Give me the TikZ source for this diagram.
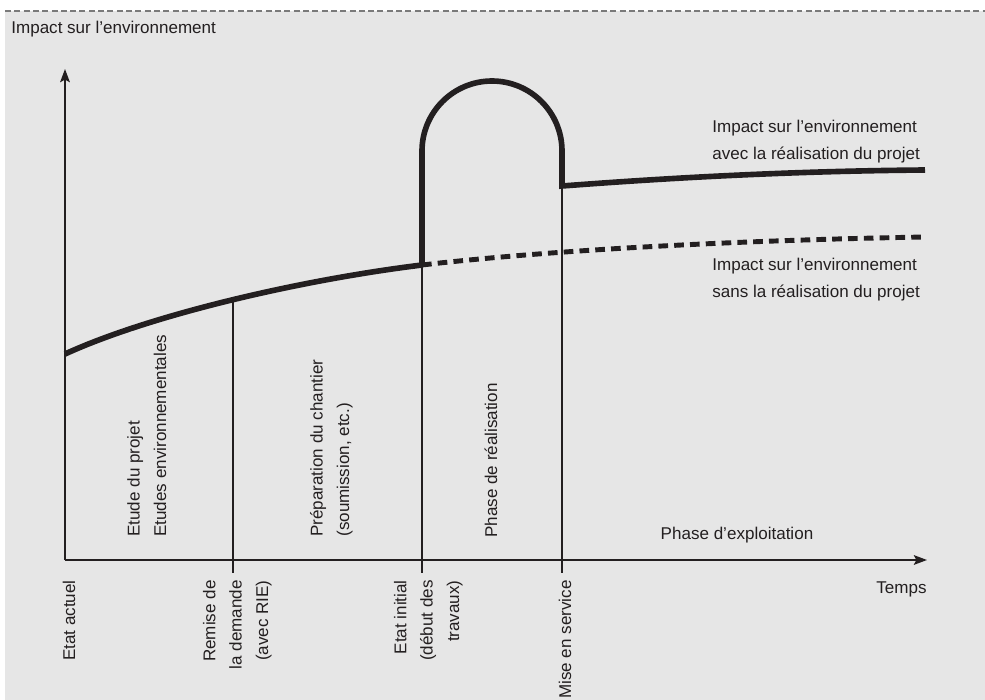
\documentclass[tikz,border=0pt]{standalone}
\usepackage{fontspec}
\setmainfont{Liberation Sans}
\usetikzlibrary{arrows.meta}
\definecolor{bggray}{HTML}{E6E6E6}
\definecolor{rulegray}{HTML}{7A7A7A}
\definecolor{ink}{HTML}{231F20}

\begin{document}
\begin{tikzpicture}[x=0.02cm,y=-0.02cm,
  every node/.style={font=\fontsize{9.7}{15}\selectfont,inner sep=0pt,text=ink},
  impact/.style={ink,line width=3.2pt},
  marker/.style={ink,line width=1.1pt},
  axis/.style={ink,line width=1.1pt,-{Stealth[length=7.5pt,width=5.5pt,inset=1.5pt]}},
  phase/.style={rotate=90,anchor=base west,align=left},
  event/.style={rotate=90,anchor=base east,align=right}]
\useasboundingbox (0,0) rectangle (985,700);
\fill[bggray] (5,11) rectangle (985,700);
\draw[rulegray,line width=0.6pt,dash pattern=on 3.4pt off 1.9pt] (5,11) -- (985,11);

\coordinate (O) at (65,560);
\coordinate (Ytop) at (65,69);
\coordinate (Xend) at (927,560);
\draw[axis] (O) -- (Ytop);
\draw[axis] (O) -- (Xend);

\coordinate (P0) at (65,354);
\coordinate (P1) at (233,299);
\coordinate (P2) at (422,265);
\coordinate (P4) at (925,237);
\coordinate (Q2) at (422,151);
\coordinate (Q3) at (562,186);
\coordinate (Q4) at (925,170);
\coordinate (T1) at (233,573);
\coordinate (T2) at (422,573);
\coordinate (T3) at (562,573);

\draw[marker] (P1) -- (T1);
\draw[marker] (P2) -- (T2);
\draw[marker] (Q3) -- (T3);

\draw[impact] (P0) .. controls (150,315) and (300,280) .. (P2);
\draw[impact,line width=2.8pt,dash pattern=on 5.5pt off 3.5pt] (P2) .. controls (560,249) and (750,240) .. (P4);
\draw[impact] (P2) -- (Q2) arc[start angle=180,end angle=360,radius=70] -- (Q3) .. controls (680,177) and (800,171) .. (Q4);

\node[anchor=base west] (ylabel) at (11,33) {Impact sur l’environnement};
\node[anchor=base east] (temps) at (927,593) {Temps};
\node[anchor=base west,align=left] (avec) at (712,159) {Impact sur l’environnement\\avec la réalisation du projet};
\node[anchor=base west,align=left] (sans) at (712,297) {Impact sur l’environnement\\sans la réalisation du projet};

\node[phase] (etude) at (166,537) {Etude du projet\\Etudes environnementales};
\node[phase] (prep) at (349,537) {Préparation du chantier\\(soumission, etc.)};
\node[phase] (real) at (497,538) {Phase de réalisation};
\node[anchor=base] (exploit) at (737,539) {Phase d’exploitation};

\node[event] (actuel) at (75,580) {Etat actuel};
\node[event] (remise) at (268,580) {Remise de\\la demande\\(avec RIE)};
\node[event] (initial) at (459,580) {Etat initial\\(début des\\travaux)};
\node[event] (service) at (571,580) {Mise en service};
\end{tikzpicture}
\end{document}
